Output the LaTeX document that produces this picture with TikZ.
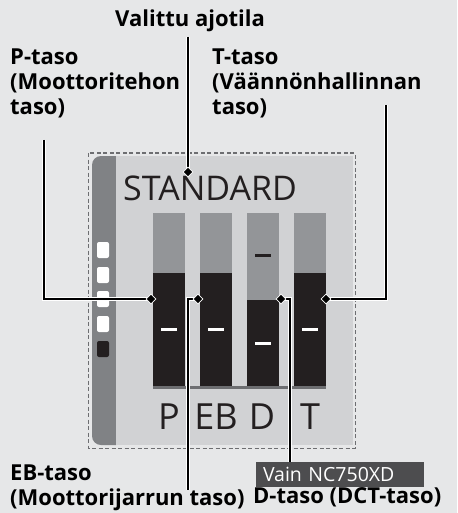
\documentclass[tikz,border=0pt]{standalone}
\usepackage{fontspec}
\setmainfont{Open Sans}
\usetikzlibrary{shapes.geometric}
\definecolor{bgc}{HTML}{E6E7E8}
\definecolor{panelc}{HTML}{D1D2D4}
\definecolor{stripc}{HTML}{808285}
\definecolor{barc}{HTML}{939598}
\definecolor{darkc}{HTML}{231F20}
\definecolor{basec}{HTML}{6D6E71}
\definecolor{dashc}{HTML}{6D6E71}
\definecolor{vainc}{HTML}{4D4D4F}
\tikzset{
  lbl/.style={inner sep=0pt, font=\fontsize{22}{25}\selectfont\bfseries, align=left, text=black},
  conn/.style={line width=2.3pt, draw=black, preaction={draw=white, line width=4.3pt}},
  dmd/.style={diamond, fill=black, draw=white, line width=0.8pt, minimum size=10pt, inner sep=0pt},
  bigletter/.style={inner sep=0pt, font=\fontsize{36}{36}\selectfont, text=darkc, anchor=base},
  sq/.style={fill=white, rounded corners=2pt},
  vainbox/.style={fill=vainc, text=white, minimum width=168pt, minimum height=25pt, inner xsep=7pt, text width=154pt, align=left, font=\fontsize{19.5}{20}\selectfont}
}
\begin{document}
\begin{tikzpicture}[x=1pt,y=-1pt]
\useasboundingbox (0,0) rectangle (457,513);
\fill[bgc] (0,0) rectangle (457,513);
% panel
\draw[dashc, line width=1pt, dash pattern=on 4pt off 2.5pt] (88,153) rectangle (355,448);
\fill[stripc] (116,156) {[rounded corners=9pt] -- (92,156) -- (92,445)} -- (116,445) -- cycle;
\fill[panelc] (116,156) rectangle (353,445);
% side squares
\fill[sq] (97,242) rectangle (109,258);
\fill[sq] (97,267) rectangle (109,283);
\fill[sq] (97,291) rectangle (109,307);
\fill[sq] (97,316) rectangle (109,332);
\fill[sq, fill=darkc] (97,341) rectangle (109,357);
% STANDARD
\node[inner sep=0pt, anchor=base west, font=\fontsize{34}{34}\selectfont, text=darkc] (std) at (123,200) {STANDARD};
% bars
\foreach \x/\d in {153/273,200/273,247/300,294/273}{
  \fill[barc] (\x,213) rectangle (\x+32,386);
  \fill[darkc] (\x,\d) rectangle (\x+32,386);
}
\fill[basec] (153,386) rectangle (326,389);
\foreach \x in {153,200,294}{
  \fill[white] (\x+8,328) rectangle (\x+24,331);
}
\fill[white] (255,342) rectangle (271,345);
\fill[darkc] (255,254) rectangle (271,257);
% letters
\node[bigletter] (lP) at (169,429) {P};
\node[bigletter] (lEB) at (216,429) {EB};
\node[bigletter] (lD) at (262,429) {D};
\node[bigletter] (lT) at (310,429) {T};
% labels
\node[lbl, anchor=base west] (tV) at (115,27) {Valittu ajotila};
\node[lbl, anchor=north west] (tP) at (10,49) {P-taso\\(Moottoritehon\\taso)};
\node[lbl, anchor=north west] (tT) at (212,49) {T-taso\\(Väännönhallinnan\\taso)};
\node[lbl, anchor=north west] (tEB) at (10,465) {EB-taso\\(Moottorijarrun taso)};
\node[lbl, anchor=base west] (tD) at (253,503) {D-taso (DCT-taso)};
\node[vainbox] (vain) at (340,474.5) {Vain NC750XD};
% connector points
\coordinate (cV) at (188,37);
\coordinate (cP1) at (44,140);
\coordinate (cP2) at (44,299);
\coordinate (cEB1) at (188,299);
\coordinate (cEB2) at (188,490);
\coordinate (cD1) at (290,299);
\coordinate (cT1) at (386,105);
\coordinate (cT2) at (386,299);
\coordinate (pV) at (188,172);
\coordinate (pP) at (151,299);
\coordinate (pEB) at (198,299);
\coordinate (pD) at (281,299);
\coordinate (pT) at (326,299);
\draw[conn] (cV) -- (pV);
\draw[conn] (cP1) -- (cP2) -- (pP);
\draw[conn] (pEB) -- (cEB1) -- (cEB2);
\draw[conn] (pD) -- (cD1) -- (cD1 |- vain.north);
\draw[conn] (cT1) -- (cT2) -- (pT);
\node[dmd] (dV) at (pV) {};
\node[dmd] (dP) at (pP) {};
\node[dmd] (dEB) at (pEB) {};
\node[dmd] (dD) at (pD) {};
\node[dmd] (dT) at (pT) {};
\end{tikzpicture}
\end{document}
